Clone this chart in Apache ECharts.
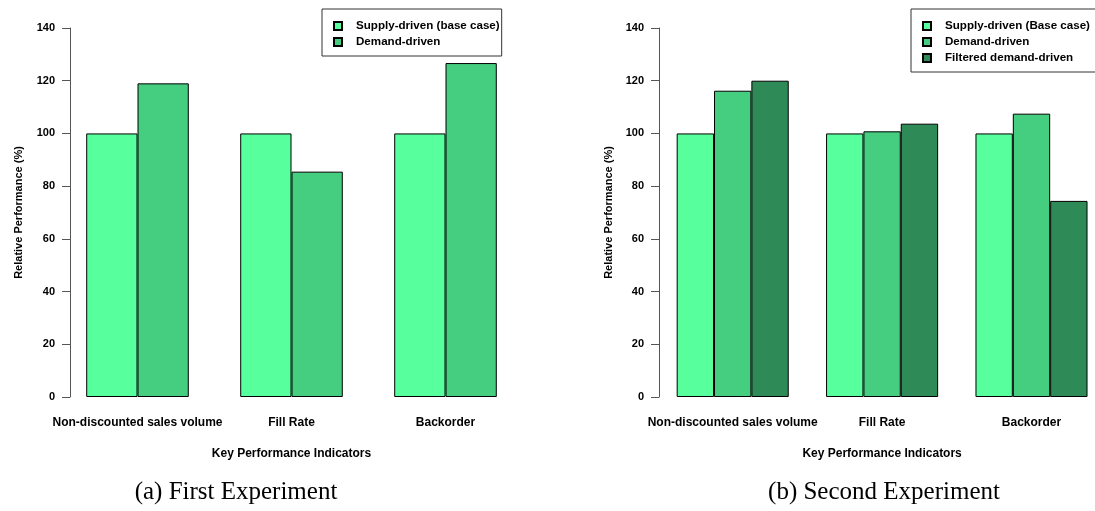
<!DOCTYPE html>
<html><head><meta charset="utf-8">
<script src="https://cdn.jsdelivr.net/npm/echarts@6/dist/echarts.min.js"></script>
<style>html,body{margin:0;padding:0;background:#fff}#c{width:1095px;height:511px}</style>
</head><body><div id="c"></div>
<script>
const categories = ['Non-discounted sales volume', 'Fill Rate', 'Backorder'];
const yTicks = [0, 20, 40, 60, 80, 100, 120, 140];
// First experiment
const a_supply = [100, 100, 100];
const a_demand = [119, 85.5, 126.7];
// Second experiment
const b_supply = [100, 100, 100];
const b_demand = [116.2, 100.8, 107.5];
const b_filtered = [120, 103.7, 74.4];

const C1 = '#57FF9D', C2 = '#45CD80', C3 = '#2E8B57';
const FONT = 'Liberation Sans, Arial, sans-serif';
const chart = echarts.init(document.getElementById('c'), null, {renderer: 'canvas'});

function yAxis(gridIndex, offset, nameGap) {
  return {
    type: 'value', gridIndex, min: yTicks[0], max: yTicks[yTicks.length - 1], interval: 20,
    offset,
    name: 'Relative Performance (%)', nameLocation: 'middle', nameRotate: 90, nameGap,
    nameTextStyle: {fontFamily: FONT, fontWeight: 'bold', fontSize: 11, color: '#000'},
    axisLine: {show: true, lineStyle: {color: '#555', width: 1}},
    axisTick: {show: true, length: 8, lineStyle: {color: '#555'}},
    axisLabel: {margin: 15, fontFamily: FONT, fontWeight: 'bold', fontSize: 11, color: '#000'},
    splitLine: {show: false}
  };
}
function xAxis(gridIndex, boundaryGap) {
  return {
    type: 'category', gridIndex, data: categories, boundaryGap,
    name: 'Key Performance Indicators', nameLocation: 'middle', nameGap: 51,
    nameTextStyle: {fontFamily: FONT, fontWeight: 'bold', fontSize: 12, color: '#000'},
    axisLine: {show: false}, axisTick: {show: false},
    axisLabel: {margin: 20, fontFamily: FONT, fontWeight: 'bold', fontSize: 12, color: '#000', interval: 0}
  };
}
const border = {borderColor: '#000', borderWidth: 1};
function bar(name, data, color, idx, width) {
  return {
    type: 'bar', name, data, xAxisIndex: idx, yAxisIndex: idx,
    barWidth: width, barGap: '0%', barCategoryGap: '0%', clip: false,
    itemStyle: Object.assign({color}, border),
    emphasis: {disabled: true}, animation: false
  };
}
const legendText = {fontFamily: FONT, fontWeight: 'bold', fontSize: 11.6, color: '#000', padding: [0, 0, 0, 9]};

chart.setOption({
  animation: false,
  grid: [
    {left: 137.5, width: 308, top: 28, bottom: 114},
    {left: 732.7, width: 298.8, top: 28, bottom: 114}
  ],
  xAxis: [xAxis(0, false), xAxis(1, false)],
  yAxis: [yAxis(0, 67.5, 46), yAxis(1, 73.7, 45)],
  legend: [
    {data: ['Supply-driven (base case)', 'Demand-driven'], orient: 'vertical', left: 322, top: 9,
     itemWidth: 8, itemHeight: 8, itemGap: 4, icon: 'rect', padding: [11, 2, 8, 11],
     borderColor: '#333', borderWidth: 1, textStyle: legendText, selectedMode: false},
    {data: ['Supply-driven (Base case)', 'Demand-driven', 'Filtered demand-driven'], orient: 'vertical', left: 911, top: 9,
     itemWidth: 8, itemHeight: 8, itemGap: 4, icon: 'rect', padding: [11, 14, 8, 11],
     borderColor: '#333', borderWidth: 1, textStyle: legendText, selectedMode: false}
  ],
  series: [
    bar('Supply-driven (base case)', a_supply, C1, 0, '33.3%'),
    bar('Demand-driven', a_demand, C2, 0, '33.3%'),
    bar('Supply-driven (Base case)', b_supply, C1, 1, '25%'),
    bar('Demand-driven', b_demand, C2, 1, '25%'),
    bar('Filtered demand-driven', b_filtered, C3, 1, '25%')
  ],
  graphic: [
    {type: 'text', x: 236, y: 492, style: {text: '(a) First Experiment', font: '25px "Liberation Serif", "Times New Roman", serif', fill: '#000', textAlign: 'center', textVerticalAlign: 'middle'}},
    {type: 'text', x: 884, y: 492, style: {text: '(b) Second Experiment', font: '25px "Liberation Serif", "Times New Roman", serif', fill: '#000', textAlign: 'center', textVerticalAlign: 'middle'}}
  ]
});
</script></body></html>
